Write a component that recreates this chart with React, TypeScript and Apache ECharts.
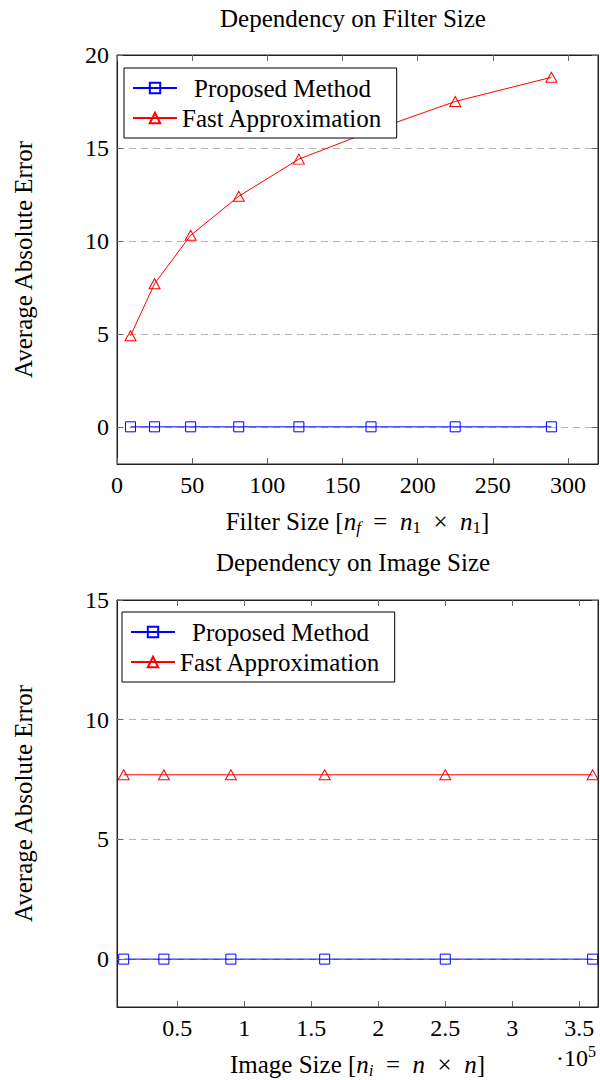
import React, { useEffect, useRef } from "react";
import * as echarts from "echarts";

// ---------- data ----------
const filterSizes = [9, 25, 49, 81, 121, 169, 225, 289];
const filterProposed = [0, 0, 0, 0, 0, 0, 0, 0];
const filterFast = [4.9, 7.7, 10.3, 12.4, 14.4, 15.9, 17.5, 18.8];

const imageSizes = [10000, 40000, 90000, 160000, 250000, 360000];
const imageProposed = [0, 0, 0, 0, 0, 0];
const imageFast = [7.7, 7.7, 7.7, 7.7, 7.7, 7.7];

const filterXTicks = [0, 50, 100, 150, 200, 250, 300];
const filterYTicks = [0, 5, 10, 15, 20];
const imageXTicks = [50000, 100000, 150000, 200000, 250000, 300000, 350000];
const imageYTicks = [0, 5, 10, 15];

const seriesNames = ["Proposed Method", "Fast Approximation"];
const titles = ["Dependency on Filter Size", "Dependency on Image Size"];
const yName = "Average Absolute Error";

const FONT = "'Liberation Serif', 'Times New Roman', Times, serif";
const FS = 24;

const richStyles = {
  i: { fontFamily: FONT, fontSize: 25, fontStyle: "italic", lineHeight: 30, color: "#000" },
  si: { fontFamily: FONT, fontSize: 17, fontStyle: "italic", lineHeight: 16, verticalAlign: "bottom", color: "#000" },
  s: { fontFamily: FONT, fontSize: 17, lineHeight: 16, verticalAlign: "bottom", color: "#000" },
};

function makeAxes(gridIndex: number, xMin: number, xMax: number, xTicks: number[], yMin: number, yMax: number, yTicks: number[], xName: string, xFmt: (v: number) => string) {
  const axisLine = { show: true, onZero: false, lineStyle: { color: "#222", width: 1 } };
  const tick = (vals: number[]) => ({ show: true, inside: true, length: 6, customValues: vals, lineStyle: { color: "#666", width: 1 } });
  const labelStyle = { fontFamily: FONT, fontSize: FS, color: "#000" };
  const xAxes = [
    {
      type: "value", gridIndex, min: xMin, max: xMax, position: "bottom",
      axisLine, axisTick: tick(xTicks),
      axisLabel: { ...labelStyle, margin: 9, customValues: xTicks, formatter: (v: number) => xFmt(v) },
      splitLine: { show: false },
      name: xName, nameLocation: "middle", nameGap: 42,
      nameTextStyle: { fontFamily: FONT, fontSize: 25, color: "#000", lineHeight: 30, rich: richStyles },
    },
    {
      type: "value", gridIndex, min: xMin, max: xMax, position: "top",
      axisLine, axisTick: tick(xTicks), axisLabel: { show: false }, splitLine: { show: false },
    },
  ];
  const yAxes = [
    {
      type: "value", gridIndex, min: yMin, max: yMax, position: "left",
      axisLine, axisTick: tick(yTicks),
      axisLabel: { ...labelStyle, margin: 8, customValues: yTicks },
      splitLine: { show: true, lineStyle: { color: "#b4b4b4", width: 1, type: [7, 5] } },
      name: yName, nameLocation: "middle", nameRotate: 90, nameGap: 79,
      nameTextStyle: { fontFamily: FONT, fontSize: 25, color: "#000", lineHeight: 30 },
    },
    {
      type: "value", gridIndex, min: yMin, max: yMax, position: "right",
      axisLine, axisTick: tick(yTicks), axisLabel: { show: false }, splitLine: { show: false },
    },
  ];
  return { xAxes, yAxes };
}

function makeSeries(name: string, xs: number[], ys: number[], axisIdx: number, color: string, symbol: string, size: any) {
  return {
    type: "line", name,
    xAxisIndex: axisIdx, yAxisIndex: axisIdx,
    data: xs.map((x, i) => [x, ys[i]]),
    symbol, symbolSize: size, showSymbol: true,
    lineStyle: { color, width: 1 },
    itemStyle: { color: "rgba(0,0,0,0)", borderColor: color, borderWidth: 1 },
    emphasis: { disabled: true },
    z: 3,
  };
}

function makeLegend(left: number, top: number) {
  return {
    left, top, orient: "vertical",
    data: seriesNames,
    selectedMode: false,
    backgroundColor: "#fff",
    borderColor: "#000", borderWidth: 1, borderRadius: 0,
    padding: [6, 14, 6, 8],
    itemWidth: 44, itemHeight: 13, itemGap: 2,
    formatter: (name: string) => (name === seriesNames[0] ? "{pm|" + name + "}" : name),
    textStyle: {
      fontFamily: FONT, fontSize: 25, color: "#000", lineHeight: 28,
      rich: { pm: { fontFamily: FONT, fontSize: 25, color: "#000", lineHeight: 28, padding: [0, 0, 0, 12] } },
    },
  };
}

export default function App() {
  const ref = useRef<HTMLDivElement>(null);
  useEffect(() => {
    document.body.style.margin = "0";
    const chart = echarts.init(ref.current!, undefined, { renderer: "svg" });
    const a1 = makeAxes(0, 0, 320, filterXTicks, -2, 20, filterYTicks,
      "Filter Size [{i|n}{si|f}\u2002=\u2002{i|n}{s|1}\u2002×\u2002{i|n}{s|1}]", (v) => String(v));
    const a2 = makeAxes(1, 5000, 364000, imageXTicks, -2, 15, imageYTicks,
      "Image Size [{i|n}{si|i}\u2002=\u2002{i|n}\u2002×\u2002{i|n}]", (v) => String(v / 100000));
    const option: any = {
      animation: false,
      backgroundColor: "#fff",
      textStyle: { fontFamily: FONT },
      grid: [
        { left: 108, top: 55, width: 490, height: 409, show: true, borderColor: "#222", borderWidth: 1, backgroundColor: "transparent" },
        { left: 107, top: 600, width: 491, height: 408, show: true, borderColor: "#222", borderWidth: 1, backgroundColor: "transparent" },
      ],
      xAxis: [...a1.xAxes, ...a2.xAxes],
      yAxis: [...a1.yAxes, ...a2.yAxes],
      legend: [makeLegend(124, 68), makeLegend(122, 612)],
      series: [
        makeSeries(seriesNames[0], filterSizes, filterProposed, 0, "#0000ff", "rect", 10),
        makeSeries(seriesNames[1], filterSizes, filterFast, 0, "#ff0000", "triangle", [11, 10]),
        makeSeries(seriesNames[0], imageSizes, imageProposed, 2, "#0000ff", "rect", 10),
        makeSeries(seriesNames[1], imageSizes, imageFast, 2, "#ff0000", "triangle", [11, 10]),
      ],
      graphic: [
        { type: "text", x: 353, y: 18, style: { text: titles[0], fontFamily: FONT, fontSize: 25, fill: "#000", align: "center", verticalAlign: "middle" } },
        { type: "text", x: 353, y: 562, style: { text: titles[1], fontFamily: FONT, fontSize: 25, fill: "#000", align: "center", verticalAlign: "middle" } },
        {
          type: "text", x: 576, y: 1058,
          style: {
            text: "·10{sup|5}", fontFamily: FONT, fontSize: FS, lineHeight: 30, fill: "#000",
            align: "center", verticalAlign: "middle",
            rich: { sup: { fontFamily: FONT, fontSize: 16, lineHeight: 16, verticalAlign: "top", fill: "#000" } },
          },
        },
      ],
    };
    chart.setOption(option);
    return () => chart.dispose();
  }, []);
  return <div ref={ref} style={{ width: 600, height: 1080, position: "absolute", left: 0, top: 0 }} />;
}
